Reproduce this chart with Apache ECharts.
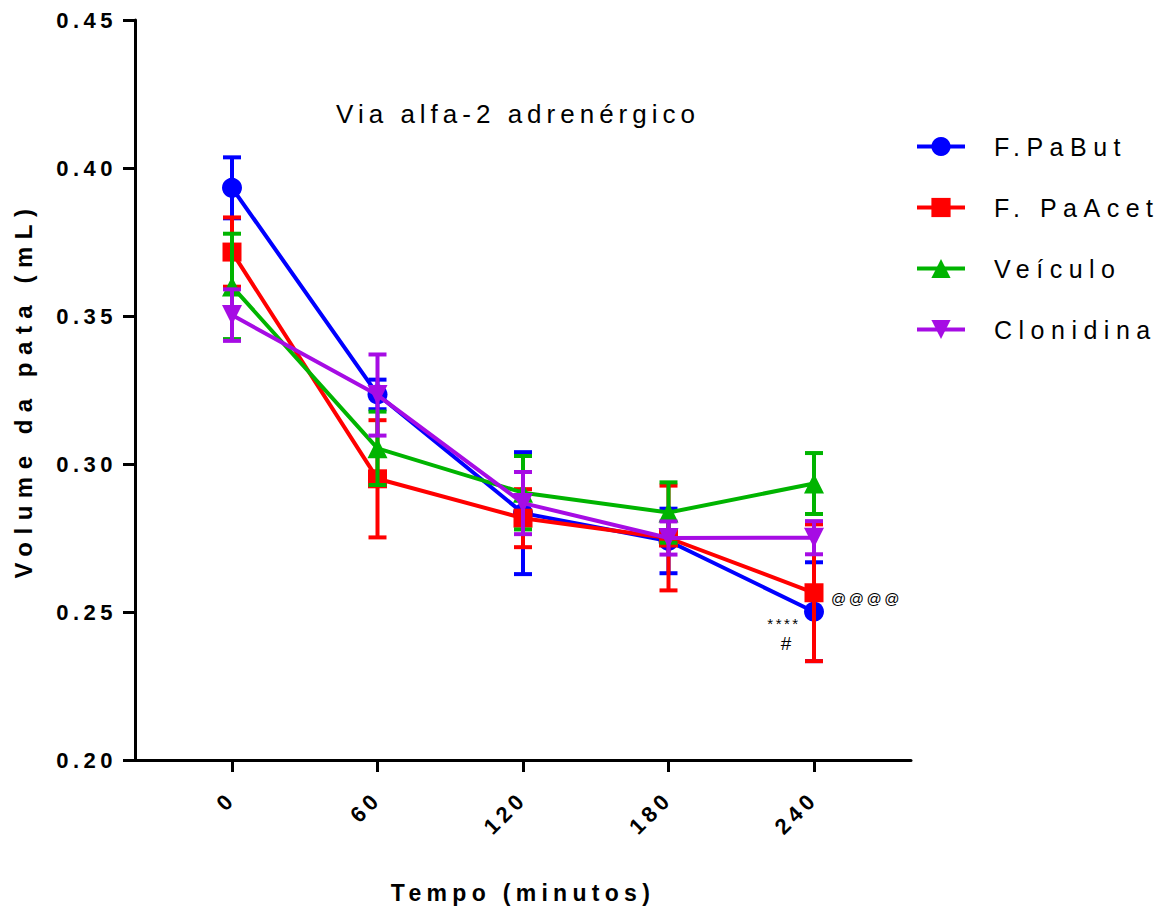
<!DOCTYPE html>
<html>
<head>
<meta charset="utf-8">
<script src="https://cdn.jsdelivr.net/npm/echarts@6/dist/echarts.min.js"></script>
<style>
  html, body { margin: 0; padding: 0; background: #fff; }
  #chart { width: 1166px; height: 909px; }
  #chart text[style*="22px"] { letter-spacing: 4.5px; }
  #chart text[style*="23px"] { letter-spacing: 5.3px; }
  #chart text[style*="24px"] { letter-spacing: 7.5px; }
  #chart text[style*="25px"] { letter-spacing: 6.5px; }
  #chart text[style*="26px"] { letter-spacing: 5px; }
  #chart text[style*="15px"] { letter-spacing: 2.5px; }
  #chart text[style*="19px"] { letter-spacing: 0px; }
</style>
</head>
<body>
<div id="chart"></div>
<script>
// ---- data ----
const times = [0, 60, 120, 180, 240];
const seriesNames = ['F.PaBut', 'F. PaAcet', 'Veículo', 'Clonidina'];
const butMean  = [0.3933, 0.3235, 0.2834, 0.2740, 0.2501];
const butSem   = [0.0103, 0.0050, 0.0206, 0.0109, 0.0167];
const acetMean = [0.3716, 0.2950, 0.2817, 0.2750, 0.2565];
const acetSem  = [0.0117, 0.0198, 0.0098, 0.0177, 0.0231];
const veicMean = [0.3600, 0.3053, 0.2903, 0.2836, 0.2934];
const veicSem  = [0.0178, 0.0124, 0.0124, 0.0102, 0.0103];
const cloMean  = [0.3503, 0.3233, 0.2868, 0.2750, 0.2751];
const cloSem   = [0.0087, 0.0137, 0.0105, 0.0056, 0.0056];
const yTicks = [0.20, 0.25, 0.30, 0.35, 0.40, 0.45];
const xTicks = [0, 60, 120, 180, 240];
const titleText = 'Via alfa-2 adrenérgico';
const xName = 'Tempo (minutos)';
const yName = 'Volume da pata (mL)';
// annotations anchored to data points: [time, value, text, dx, dy, align, size]
const annotations = [
  [240, 0.2565, '@@@@', 17, 6, 'left', 15],
  [240, 0.2501, '****', -30, 12, 'center', 15],
  [240, 0.2501, '#', -28, 32, 'center', 19]
];

const means = [butMean, acetMean, veicMean, cloMean];
const sems = [butSem, acetSem, veicSem, cloSem];
const colors = ['#0000FF', '#FF0000', '#00B400', '#A60CE4'];
const symbols = ['circle', 'rect', 'triangle', 'path://M0,0 L10,0 L5,10 Z'];
const symbolSizes = [20, 19, 20, 20];
const FONT = "'Liberation Sans', Arial, sans-serif";

const series = [];
means.forEach(function (m, i) {
  const errData = times.map(function (t, k) { return [t, m[k], sems[i][k]]; });
  series.push({
    type: 'custom',
    name: seriesNames[i] + ' SEM',
    z: 2 + i * 2,
    encode: { x: 0, y: 1 },
    data: errData,
    renderItem: function (params, api) {
      const x = api.value(0), y = api.value(1), e = api.value(2);
      const top = api.coord([x, y + e]);
      const bot = api.coord([x, y - e]);
      const hw = 9;
      const st = { stroke: colors[i], lineWidth: 4, fill: null };
      return {
        type: 'group',
        children: [
          { type: 'line', shape: { x1: top[0], y1: top[1], x2: bot[0], y2: bot[1] }, style: st },
          { type: 'line', shape: { x1: top[0] - hw, y1: top[1], x2: top[0] + hw, y2: top[1] }, style: st },
          { type: 'line', shape: { x1: bot[0] - hw, y1: bot[1], x2: bot[0] + hw, y2: bot[1] }, style: st }
        ]
      };
    },
    silent: true
  });
  series.push({
    type: 'line',
    name: seriesNames[i],
    z: 3 + i * 2,
    data: times.map(function (t, k) { return [t, m[k]]; }),
    symbol: symbols[i],
    symbolSize: symbolSizes[i],
    showSymbol: true,
    lineStyle: { color: colors[i], width: 4 },
    itemStyle: { color: colors[i] },
    animation: false
  });
});

series.push({
  type: 'custom',
  name: 'annotations',
  z: 20,
  silent: true,
  encode: { x: 0, y: 1 },
  data: annotations.map(function (a) { return [a[0], a[1]]; }),
  renderItem: function (params, api) {
    const a = annotations[params.dataIndex];
    const p = api.coord([api.value(0), api.value(1)]);
    return {
      type: 'text',
      x: p[0] + a[3],
      y: p[1] + a[4],
      style: {
        text: a[2], fill: '#000', fontSize: a[6], fontFamily: FONT,
        align: a[5], verticalAlign: 'middle'
      }
    };
  }
});

const chart = echarts.init(document.getElementById('chart'), null, { renderer: 'svg' });
chart.setOption({
  animation: false,
  backgroundColor: '#fff',
  title: {
    text: titleText,
    left: 513,
    textAlign: 'center',
    top: 96,
    textStyle: { fontSize: 26, fontWeight: 'normal', color: '#000', fontFamily: FONT }
  },
  legend: {
    data: seriesNames,
    orient: 'vertical',
    left: 915,
    top: 134,
    padding: 0,
    itemWidth: 48,
    itemHeight: 24,
    itemGap: 36,
    lineStyle: { width: 4 },
    textStyle: { fontSize: 25, color: '#000', fontFamily: FONT, padding: [0, 0, 0, 24] }
  },
  grid: { left: 135, right: 255, top: 20, bottom: 149, containLabel: false, outerBoundsMode: 'none' },
  xAxis: {
    type: 'value',
    min: -40,
    max: 280,
    name: xName,
    nameLocation: 'middle',
    nameGap: 121,
    nameTextStyle: { fontSize: 23, fontWeight: 'bold', color: '#000', fontFamily: FONT },
    axisLine: { onZero: false, lineStyle: { color: '#000', width: 3 } },
    axisTick: { length: 12, lineStyle: { color: '#000', width: 3 }, customValues: xTicks },
    axisLabel: { rotate: 45, margin: 35, fontSize: 22, fontWeight: 'bold', color: '#000', fontFamily: FONT, customValues: xTicks },
    splitLine: { show: false }
  },
  yAxis: {
    type: 'value',
    min: yTicks[0],
    max: yTicks[yTicks.length - 1],
    interval: 0.05,
    name: yName,
    nameLocation: 'middle',
    nameGap: 100,
    nameTextStyle: { fontSize: 24, fontWeight: 'bold', color: '#000', fontFamily: FONT },
    axisLine: { onZero: false, lineStyle: { color: '#000', width: 3 } },
    axisTick: { length: 12, lineStyle: { color: '#000', width: 3 } },
    axisLabel: { margin: 18, fontSize: 22, fontWeight: 'bold', color: '#000', fontFamily: FONT,
      formatter: function (v) { return v.toFixed(2); } },
    splitLine: { show: false }
  },
  series: series
});
</script>
</body>
</html>
